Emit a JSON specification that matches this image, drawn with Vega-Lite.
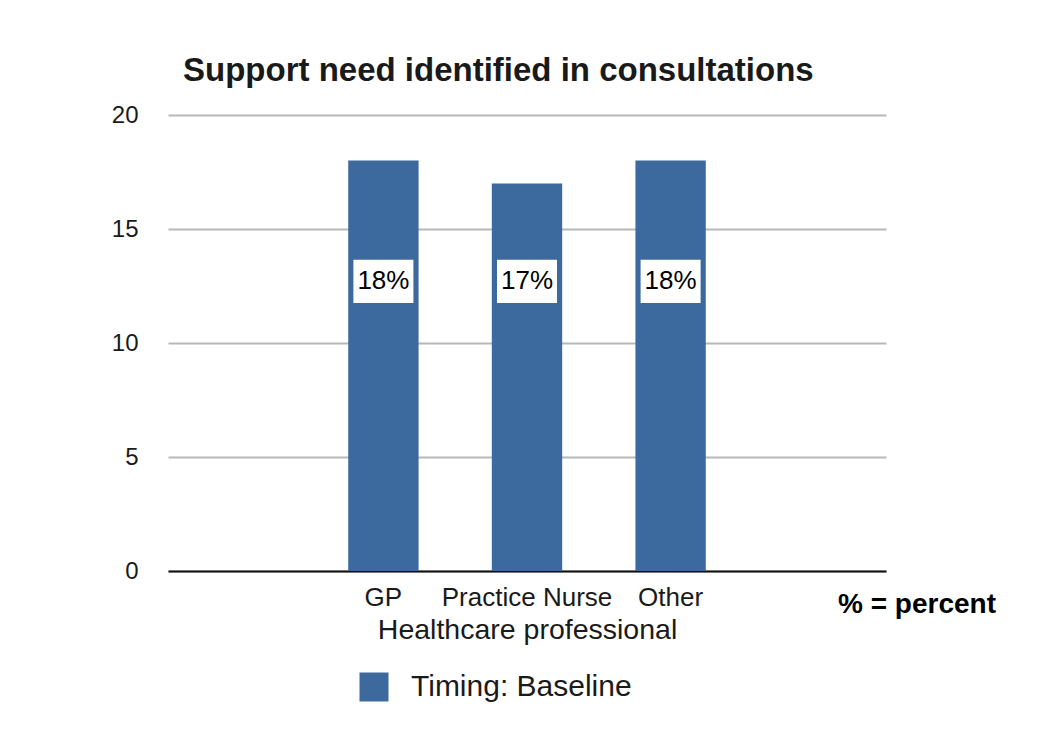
{
  "$schema": "https://vega.github.io/schema/vega-lite/v6.json",
  "autosize": "none",
  "width": 718,
  "height": 456,
  "padding": {"left": 168, "top": 115, "right": 162, "bottom": 171},
  "background": "white",
  "config": {
    "font": "Liberation Sans",
    "view": {"stroke": null}
  },
  "title": {
    "text": "Support need identified in consultations",
    "anchor": "start",
    "frame": "group",
    "dx": 15,
    "offset": 15,
    "fontSize": 33,
    "fontWeight": "bold",
    "color": "#1a1a1a",
    "font": "Liberation Sans"
  },
  "data": {
    "values": [
      {"professional": "GP", "value": 18, "label": "18%", "timing": "Timing: Baseline"},
      {"professional": "Practice Nurse", "value": 17, "label": "17%", "timing": "Timing: Baseline"},
      {"professional": "Other", "value": 18, "label": "18%", "timing": "Timing: Baseline"}
    ]
  },
  "encoding": {
    "x": {
      "field": "professional",
      "type": "nominal",
      "scale": {"domain": ["_left", "GP", "Practice Nurse", "Other", "_right"], "paddingInner": 0.51, "paddingOuter": 0.255},
      "axis": {
        "title": "Healthcare professional",
        "labelExpr": "indexof(datum.value, '_') == 0 ? '' : datum.value",
        "labelAngle": 0,
        "labelFontSize": 26,
        "labelColor": "#1a1a1a",
        "labelPadding": 13,
        "titleFontSize": 28.5,
        "titleFontWeight": "normal",
        "titleColor": "#1a1a1a",
        "titlePadding": 5,
        "ticks": false,
        "domainColor": "#111111",
        "domainWidth": 2,
        "grid": false
      }
    }
  },
  "layer": [
    {
      "mark": {"type": "bar", "color": "#3D6A9E"},
      "encoding": {
        "y": {
          "field": "value",
          "type": "quantitative",
          "scale": {"domain": [0, 20], "nice": false},
          "axis": {
            "title": null,
            "values": [0, 5, 10, 15, 20],
            "labelFontSize": 24,
            "labelColor": "#1a1a1a",
            "labelPadding": 30,
            "ticks": false,
            "domain": false,
            "gridColor": "#b8b8b8",
            "gridWidth": 2
          }
        },
        "color": {
          "field": "timing",
          "type": "nominal",
          "scale": {"range": ["#3D6A9E"]},
          "legend": {
            "title": null,
            "orient": "none",
            "legendX": 191,
            "legendY": 557,
            "symbolType": "square",
            "symbolSize": 841,
            "symbolStrokeWidth": 0,
            "symbolOpacity": 1,
            "labelFontSize": 30,
            "labelColor": "#1a1a1a",
            "labelOffset": 22,
            "labelLimit": 0,
            "padding": 0
          }
        }
      }
    },
    {
      "mark": {"type": "rect", "color": "white", "width": 60},
      "encoding": {
        "y": {"datum": 11.75},
        "y2": {"datum": 13.65}
      }
    },
    {
      "mark": {"type": "text", "fontSize": 26, "color": "black", "baseline": "middle"},
      "encoding": {
        "y": {"datum": 12.7},
        "text": {"field": "label"}
      }
    },
    {
      "mark": {"type": "point", "opacity": 0},
      "encoding": {
        "y": {"datum": 0},
        "shape": {
          "datum": "% = percent",
          "legend": {
            "title": null,
            "orient": "none",
            "legendX": 642,
            "legendY": 476,
            "symbolSize": 0,
            "symbolOpacity": 0,
            "labelOffset": 0,
            "labelFontSize": 28,
            "labelFontWeight": "bold",
            "labelColor": "black",
            "labelLimit": 0,
            "padding": 0
          }
        }
      }
    }
  ]
}
